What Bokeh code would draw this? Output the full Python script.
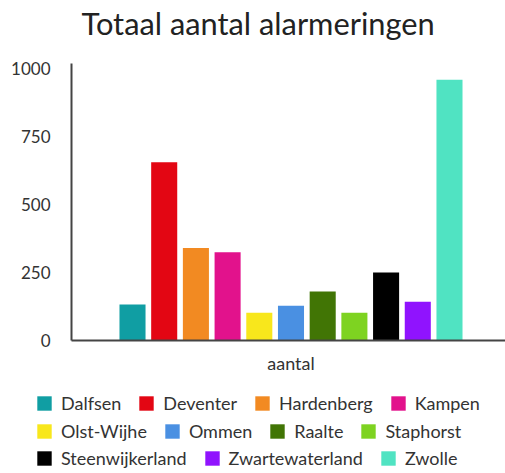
from bokeh.plotting import figure
from bokeh.models import (ColumnDataSource, Range1d, FixedTicker, Legend, LegendItem)
from bokeh.embed import file_html
from bokeh.resources import INLINE

title = "Totaal aantal alarmeringen"
category = "aantal"
names = ["Dalfsen", "Deventer", "Hardenberg", "Kampen", "Olst-Wijhe", "Ommen",
         "Raalte", "Staphorst", "Steenwijkerland", "Zwartewaterland", "Zwolle"]
values = [133, 656, 341, 325, 102, 128, 180, 102, 250, 143, 960]
colors = ["#109ea3", "#e30613", "#f28a22", "#e2128c", "#f8e71c", "#4a90e2",
          "#417505", "#7ed321", "#000000", "#9013fe", "#50e3c2"]
legend_rows = [4, 4, 3]
y_ticks = [0, 250, 500, 750, 1000]

FONT = "Lato"
TXT = "#333333"

W = 505
SHIFT = 20
H1 = SHIFT + 340 + 43
H2 = 90

p = figure(width=W, height=H1, output_backend="svg", toolbar_location=None,
           x_range=Range1d(-0.0055, 0.994), y_range=Range1d(0, 1020))
p.min_border_left = 71
p.min_border_right = 0
p.min_border_top = 0
p.min_border_bottom = 43
p.outline_line_color = None
p.xgrid.grid_line_color = None
p.ygrid.grid_line_color = None
p.margin = (-SHIFT, 0, 0, 0)

p.title.text = title
p.title.align = "left"
p.title.offset = 10
p.title.text_font = FONT
p.title.text_font_size = "30.8px"
p.title.text_font_style = "normal"
p.title.text_color = "#222222"
p.title.standoff = 44

n = len(names)
pitch = 0.073
bw = 0.060
xs = [0.5 + (i - (n - 1) / 2) * pitch for i in range(n)]
for i in range(n):
    src = ColumnDataSource(dict(x=[xs[i]], top=[values[i]]))
    p.vbar(x="x", top="top", bottom=0, width=bw, source=src,
           fill_color=colors[i], line_color=None)

for ax in (p.xaxis[0], p.yaxis[0]):
    ax.axis_line_color = "#444444"
    ax.axis_line_width = 2
    ax.major_tick_line_color = None
    ax.minor_tick_line_color = None
    ax.major_tick_out = 0
    ax.major_tick_in = 0
    ax.minor_tick_out = 0
    ax.major_label_text_font = FONT
    ax.major_label_text_font_size = "17px"
    ax.major_label_text_color = TXT

p.yaxis.ticker = FixedTicker(ticks=y_ticks)
p.yaxis.major_label_standoff = 21
p.xaxis.ticker = FixedTicker(ticks=[0.5])
p.xaxis.major_label_overrides = {0.5: category}
p.xaxis.major_label_standoff = 11
p.xaxis.major_label_text_font_size = "18px"

# legend area: hidden copies of the bars serve as the legend swatches
p2 = figure(width=W, height=H2, output_backend="svg", toolbar_location=None,
            x_range=Range1d(0, 1), y_range=Range1d(0, 1000),
            x_axis_location=None, y_axis_location=None)
p2.min_border = 0
p2.outline_line_color = None
p2.xgrid.grid_line_color = None
p2.ygrid.grid_line_color = None

swatches = []
for i in range(n):
    src = ColumnDataSource(dict(x=[xs[i]], top=[values[i]]))
    r = p2.vbar(x="x", top="top", bottom=0, width=bw, source=src,
                fill_color=colors[i], line_color=None)
    r.visible = False
    swatches.append(r)

row_y = [59, 31, 4]
start = 0
for k, cnt in enumerate(legend_rows):
    items = [LegendItem(label=names[j], renderers=[swatches[j]])
             for j in range(start, start + cnt)]
    start += cnt
    lg = Legend(items=items, orientation="horizontal", location=(35, row_y[k]),
                label_text_font=FONT, label_text_font_size="18px",
                label_text_color=TXT, glyph_width=18, glyph_height=18,
                label_standoff=8, spacing=16, padding=0, margin=0,
                border_line_color=None, background_fill_alpha=0,
                label_height=18)
    p2.add_layout(lg, "center")

open("out.html", "w").write(file_html([p, p2], INLINE))
